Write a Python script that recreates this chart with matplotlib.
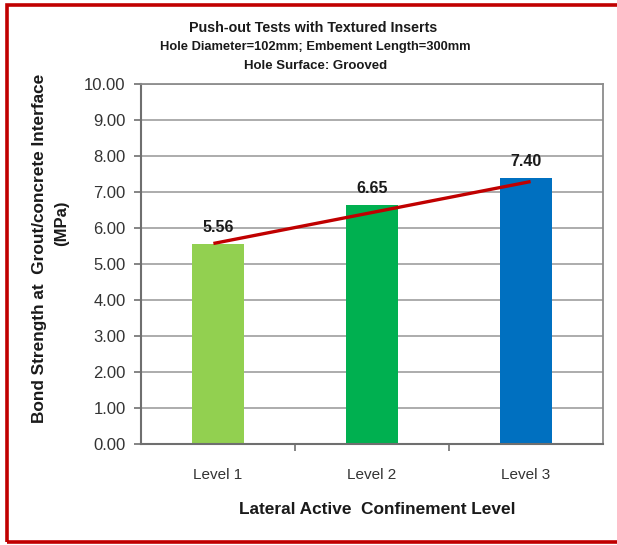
import matplotlib
matplotlib.use("Agg")
import matplotlib.pyplot as plt
from matplotlib.patches import Rectangle
import numpy as np

plt.rcParams['font.family'] = ['Liberation Sans', 'DejaVu Sans']

# Data
categories = ["Level 1", "Level 2", "Level 3"]
bond_strength = [5.56, 6.65, 7.40]
bar_colors = ["#92D050", "#00B050", "#0070C0"]
trend_values = [5.57, 7.29]          # red trend line at first and last level
y_ticks = [0, 1, 2, 3, 4, 5, 6, 7, 8, 9, 10]

W, H = 617, 545
fig = plt.figure(figsize=(W / 100, H / 100), dpi=100)
fig.patch.set_facecolor("white")

ax = fig.add_axes([141 / W, 1 - 444 / H, (603 - 141) / W, (444 - 84) / H])
x = np.arange(len(categories))

ax.set_axisbelow(True)
ax.yaxis.grid(True, color="#a6a6a6", linewidth=1.3)
ax.bar(x, bond_strength, width=0.34, color=bar_colors, zorder=2)

tx = [x[0] - 0.03, x[-1] + 0.03]
ax.plot(tx, trend_values, color="#C00000", linewidth=2.4, zorder=3,
        solid_capstyle="butt")

for xi, v in zip(x, bond_strength):
    ax.text(xi, v + 0.24, f"{v:.2f}", ha="center", va="bottom",
            fontsize=11.5, fontweight="bold", color="#1a1a1a", zorder=4)

ax.set_xlim(-0.5, 2.5)
ax.set_ylim(0, 10)
ax.set_yticks(y_ticks)
ax.set_yticklabels([f"{t:.2f}" for t in y_ticks], fontsize=12, color="#333333")
ax.set_xticks(x)
ax.set_xticklabels(categories, fontsize=11, color="#333333")
ax.tick_params(axis="x", length=0, pad=17)
ax.set_xticks([0.5, 1.5], minor=True)
ax.tick_params(axis="x", which="minor", length=5, width=1.2, color="#707070",
               direction="out")
ax.tick_params(axis="y", length=5, width=1.2, color="#707070", pad=6)

for side in ["left", "bottom"]:
    ax.spines[side].set_color("#6f6f6f")
    ax.spines[side].set_linewidth(1.5)
for side in ["top", "right"]:
    ax.spines[side].set_color("#8c8c8c")
    ax.spines[side].set_linewidth(1.3)

# Titles
fig.text(313 / W, 1 - 28 / H, "Push-out Tests with Textured Inserts",
         ha="center", va="center", fontsize=10.3, fontweight="bold", color="#1a1a1a")
fig.text(315 / W, 1 - 47 / H, "Hole Diameter=102mm; Embement Length=300mm",
         ha="center", va="center", fontsize=9.3, fontweight="bold", color="#1a1a1a")
fig.text(316 / W, 1 - 66 / H, "Hole Surface: Grooved",
         ha="center", va="center", fontsize=9.5, fontweight="bold", color="#1a1a1a")

# Axis titles
fig.text(40 / W, 1 - 248 / H, "Bond Strength at  Grout/concrete Interface",
         ha="center", va="center", rotation=90, fontsize=12.4,
         fontweight="bold", color="#1a1a1a")
fig.text(62 / W, 1 - 223 / H, "(MPa)", ha="center", va="center", rotation=90,
         fontsize=12, fontweight="bold", color="#1a1a1a")
fig.text(377 / W, 1 - 510 / H, "Lateral Active  Confinement Level",
         ha="center", va="center", fontsize=12.4, fontweight="bold", color="#1a1a1a")

# Red outer frame (right side runs past the image edge)
frame = Rectangle((7 / W, 1 - 542 / H), 1.1, (542 - 5) / H,
                  transform=fig.transFigure, fill=False,
                  edgecolor="#C00000", linewidth=2.6, clip_on=False)
fig.patches.append(frame)

fig.savefig("out.png", dpi=100)
